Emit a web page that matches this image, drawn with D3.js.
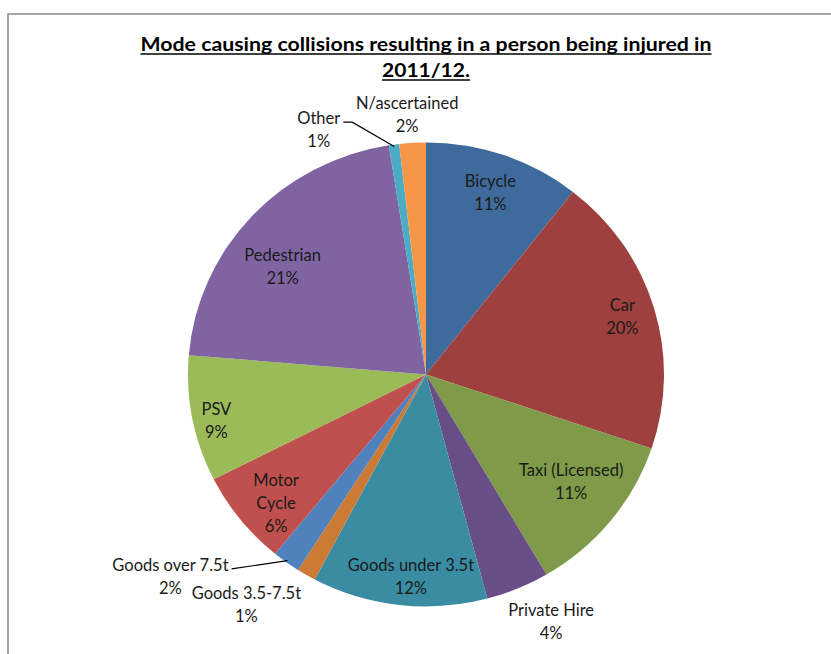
<!DOCTYPE html>
<html>
<head>
<meta charset="utf-8">
<script src="https://cdn.jsdelivr.net/npm/d3@7"></script>
<style>
  html, body { margin: 0; padding: 0; background: #fff; }
  svg { display: block; }
</style>
</head>
<body>
<svg id="chart" width="831" height="654"></svg>
<script>
// ---- data ----
const categories = ["Bicycle", "Car", "Taxi (Licensed)", "Private Hire", "Goods under 3.5t",
  "Goods 3.5-7.5t", "Goods over 7.5t", "Motor Cycle", "PSV", "Pedestrian", "Other", "N/ascertained"];
const values = [10.6, 19.6, 11.4, 4.3, 11.9, 1.3, 1.9, 6.6, 8.8, 21.2, 0.7, 1.8];
const percentLabels = ["11%", "20%", "11%", "4%", "12%", "1%", "2%", "6%", "9%", "21%", "1%", "2%"];
const colors = ["#3F6A9C", "#9E413E", "#7F9A48", "#684E87", "#3A8CA2", "#CC7B37",
  "#4F81BD", "#C0504D", "#9BBB59", "#8064A2", "#4BACC6", "#F79646"];
const titleLines = ["Mode causing collisions resulting in a person being injured in", "2011/12."];

// label layout (style): name split into lines, radius from centre, angle offset from slice middle
const nameLines = [["Bicycle"], ["Car"], ["Taxi (Licensed)"], ["Private Hire"], ["Goods under 3.5t"],
  ["Goods 3.5-7.5t"], ["Goods over 7.5t"], ["Motor", "Cycle"], ["PSV"], ["Pedestrian"], ["Other"], ["N/ascertained"]];
const labelR = [197, 205, 182, 283, 208, 297, 329, 200, 215, 181, 273, 267];
const labelDA = [0, 0, -2, -3.6, -2.3, 7, 15, -2.7, -1.8, -5.3, -15.4, -0.8];
const leader = [false, false, false, false, false, false, true, false, false, false, true, false];

// ---- layout ----
const W = 831, H = 654;
const cx = 426, cy = 374.4, R = 238, ky = 232 / 238;
const svg = d3.select("#chart");

// frame
svg.append("rect").attr("x", 8).attr("y", 14).attr("width", W + 20).attr("height", H + 20)
  .attr("fill", "none").attr("stroke", "#8a8a8a").attr("stroke-width", 1.5);

// title
const title = svg.append("g");
titleLines.forEach((t, i) => {
  const tx = title.append("text")
    .attr("x", 426).attr("y", 51 + i * 26)
    .attr("text-anchor", "middle")
    .attr("font-family", "Lato, 'Open Sans', sans-serif")
    .attr("font-weight", "bold").attr("font-size", 19)
    .attr("fill", "#000")
    .text(t);
  const len = i === 0 ? 571 : 88;
  tx.attr("textLength", len).attr("lengthAdjust", "spacingAndGlyphs");
  title.append("line")
    .attr("x1", 426 - len / 2).attr("x2", 426 + len / 2)
    .attr("y1", 54 + i * 26).attr("y2", 54 + i * 26)
    .attr("stroke", "#000").attr("stroke-width", 1.3);
});

// pie
const pie = d3.pie().sort(null).value(d => d)(values);
const arc = d3.arc().innerRadius(0).outerRadius(R);
const g = svg.append("g").attr("transform", `translate(${cx},${cy}) scale(1,${ky})`);
g.selectAll("path").data(pie).join("path")
  .attr("d", arc)
  .attr("fill", (d, i) => colors[i]);

// labels
const fontSize = 16.5, lineH = 23;
const toXY = (angRad, r) => [cx + r * Math.sin(angRad), cy - r * Math.cos(angRad) * ky];
const lg = svg.append("g")
  .attr("font-family", "Lato, 'Open Sans', sans-serif")
  .attr("font-size", fontSize).attr("fill", "#1a1a1a");

pie.forEach((d, i) => {
  const mid = (d.startAngle + d.endAngle) / 2;
  const [x, y] = toXY(mid + labelDA[i] * Math.PI / 180, labelR[i]);
  const lines = nameLines[i].concat([percentLabels[i]]);
  const n = lines.length;
  const t = lg.append("text").attr("text-anchor", "middle");
  lines.forEach((s, k) => {
    t.append("tspan").attr("x", x)
      .attr("y", y + (k - (n - 1) / 2) * lineH + fontSize * 0.35)
      .text(s);
  });
  if (leader[i]) {
    const first = t.select("tspan").node();
    const w = first.getComputedTextLength();
    const sx = x + w / 2 + 3;
    const sy = y - (n - 1) / 2 * lineH + 4;
    const [ex, ey] = toXY(mid, R - 2);
    const pts = i === 10 ? [[sx, sy], [sx + 9, sy], [ex, ey]] : [[sx, sy], [ex, ey]];
    svg.append("path")
      .attr("d", d3.line()(pts))
      .attr("fill", "none").attr("stroke", "#000").attr("stroke-width", 1.2);
  }
});
</script>
</body>
</html>
